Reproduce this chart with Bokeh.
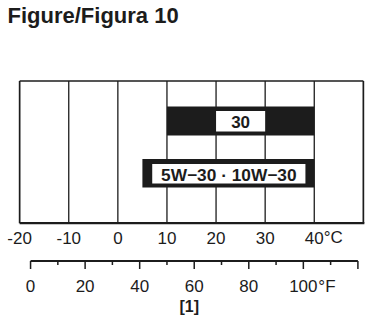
from bokeh.plotting import figure
from bokeh.models import Range1d, ColumnDataSource
from bokeh.core.properties import value
from bokeh.embed import file_html
from bokeh.resources import INLINE

# ---- data ----
title_text = "Figure/Figura 10"
figure_ref = "[1]"
grades = ["30", "5W\u221230 \u00b7 10W\u221230"]
grade_min_c = [10, 5]
grade_max_c = [40, 40]
celsius_ticks = [-20, -10, 0, 10, 20, 30, 40]
celsius_labels = ["-20", "-10", "0", "10", "20", "30", "40"]
celsius_unit = "\u00b0C"
fahrenheit_major = [0, 20, 40, 60, 80, 100, 120]
fahrenheit_minor = [10, 30, 50, 70, 90, 110]
fahrenheit_labels = ["0", "20", "40", "60", "80", "100"]
fahrenheit_unit = "\u00b0F"
chart_min_c, chart_max_c = -20, 50

# ---- layout / style (screen-like y coordinates, y grows downward) ----
FONT = value("Liberation Sans")
INK = "#1c1c1c"
SHIFT = 6.0  # empirical baseline correction
box_top, box_bottom = 80.5, 222.7
bar_top = [106, 158.5]
bar_bottom = [135, 187]
label_left = [20, 7]
label_right = [30, 38.2]
label_top = [110.5, 163.5]
label_bottom = [131, 183]
label_baseline = [127.5 - SHIFT, 180 - SHIFT]
label_size = ["17px", "17.3px"]


def f2c(f):
    return (f - 32) * 5.0 / 9.0


p = figure(width=369, height=331,
           x_range=Range1d(-23.90, 51.25), y_range=Range1d(331, 0),
           x_axis_location=None, y_axis_location=None,
           toolbar_location=None, output_backend="svg", min_border=0)
p.outline_line_color = None
p.grid.grid_line_color = None
p.background_fill_color = "white"
p.border_fill_color = "white"

# title
p.text(x=[-23.90], y=[20.7 - SHIFT], text=[title_text], x_offset=7,
       text_font=FONT, text_font_style="bold", text_font_size="22px",
       text_color=INK, text_align="left", text_baseline="alphabetic")

# grid lines inside box
p.segment(x0=celsius_ticks[1:], y0=box_top, x1=celsius_ticks[1:], y1=box_bottom,
          line_color=INK, line_width=1.3)
# box frame
p.segment(x0=[chart_min_c, chart_max_c, chart_min_c],
          y0=[box_top, box_top, box_top],
          x1=[chart_min_c, chart_max_c, chart_max_c],
          y1=[box_bottom, box_bottom, box_top],
          line_color=INK, line_width=1.7)
p.segment(x0=[chart_min_c], y0=[box_bottom], x1=[chart_max_c + 0.2], y1=[box_bottom],
          line_color=INK, line_width=2.2)

# bars
bars = ColumnDataSource(dict(left=grade_min_c, right=grade_max_c,
                             top=bar_top, bottom=bar_bottom))
p.quad(left="left", right="right", top="top", bottom="bottom", source=bars,
       fill_color=INK, line_color=None)

labels = ColumnDataSource(dict(
    left=label_left, right=label_right, top=label_top, bottom=label_bottom,
    x=[(a + b) / 2 for a, b in zip(label_left, label_right)],
    y=label_baseline, text=grades, size=label_size))
p.quad(left="left", right="right", top="top", bottom="bottom", source=labels,
       fill_color="white", line_color=None)
p.text(x="x", y="y", text="text", source=labels, text_font=FONT,
       text_font_style="bold", text_font_size="size", text_color=INK,
       text_align="center", text_baseline="alphabetic")

# celsius tick labels
c_base = 243.3 - SHIFT
p.text(x=celsius_ticks, y=[c_base] * len(celsius_ticks), text=celsius_labels,
       text_font=FONT, text_font_size="17px", text_color=INK,
       text_align="center", text_baseline="alphabetic")
p.text(x=[celsius_ticks[-1]], y=[c_base], text=[celsius_unit], x_offset=9.5,
       text_font=FONT, text_font_size="17px", text_color=INK,
       text_align="left", text_baseline="alphabetic")

# fahrenheit scale
f_axis_y = 260.5
p.segment(x0=[f2c(fahrenheit_major[0])], y0=[f_axis_y],
          x1=[f2c(fahrenheit_major[-1])], y1=[f_axis_y],
          line_color=INK, line_width=2)
maj = [f2c(f) for f in fahrenheit_major]
mnr = [f2c(f) for f in fahrenheit_minor]
p.segment(x0=maj, y0=f_axis_y, x1=maj, y1=f_axis_y + 8, line_color=INK, line_width=1.5)
p.segment(x0=mnr, y0=f_axis_y, x1=mnr, y1=f_axis_y + 4, line_color=INK, line_width=1.5)
f_lab_x = [f2c(f) for f in fahrenheit_major[:len(fahrenheit_labels)]]
f_base = 291.5 - SHIFT
p.text(x=f_lab_x, y=[f_base] * len(f_lab_x), text=fahrenheit_labels,
       text_font=FONT, text_font_size="17px", text_color=INK,
       text_align="center", text_baseline="alphabetic")
p.text(x=[f_lab_x[-1]], y=[f_base], text=[fahrenheit_unit], x_offset=15,
       text_font=FONT, text_font_size="17px", text_color=INK,
       text_align="left", text_baseline="alphabetic")

# figure reference
p.text(x=[f2c(60)], y=[311.5 - SHIFT], text=[figure_ref], x_offset=-5,
       text_font=FONT, text_font_style="bold", text_font_size="16px",
       text_color=INK, text_align="center", text_baseline="alphabetic")

open("out.html", "w").write(file_html(p, INLINE))
